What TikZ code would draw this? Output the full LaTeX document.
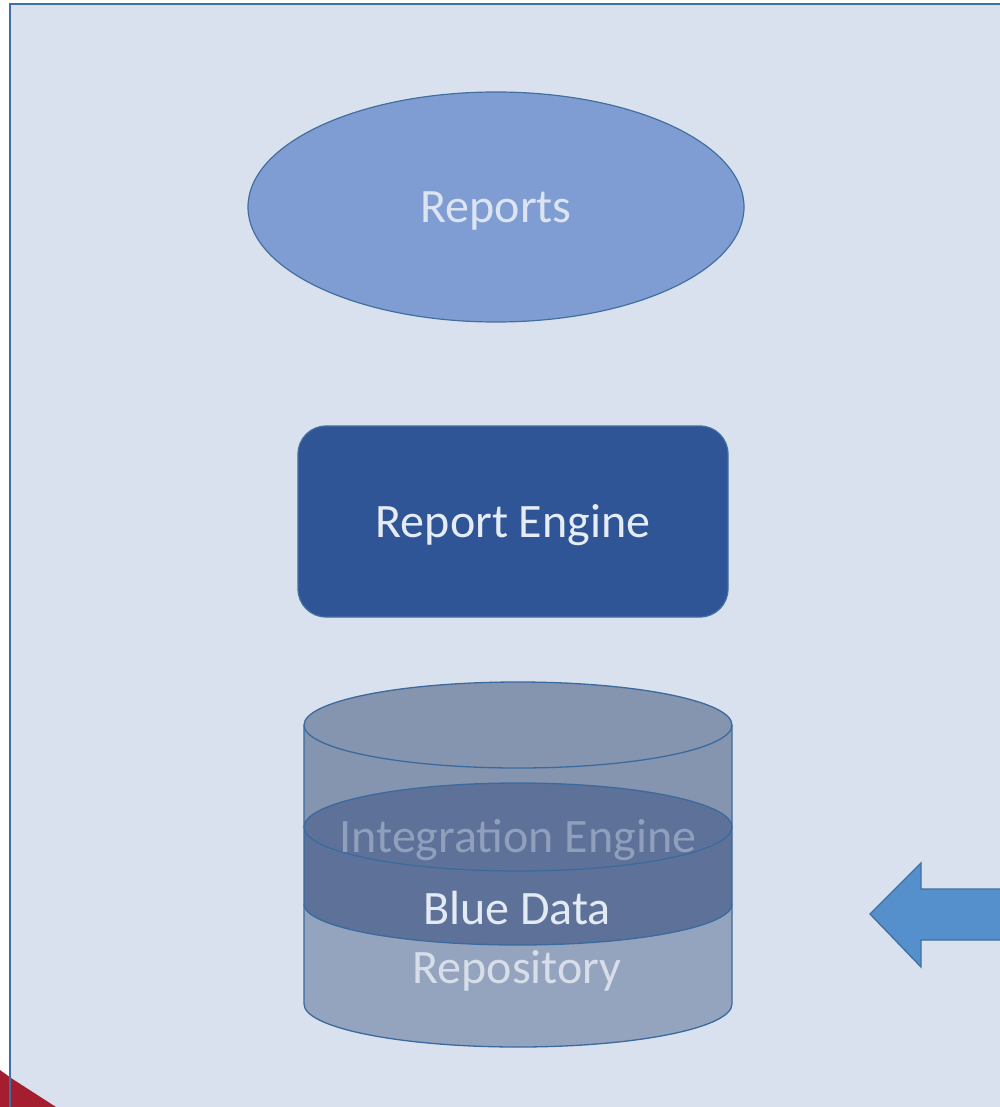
\documentclass[tikz,border=0pt]{standalone}
\usepackage{fontspec}
\setmainfont{Carlito}
\usetikzlibrary{shapes.geometric}
\definecolor{bgc}{HTML}{DAE1EE}
\definecolor{framec}{HTML}{3E70A6}
\definecolor{repfill}{HTML}{7F9DD2}
\definecolor{edgec}{HTML}{41709F}
\definecolor{reptext}{HTML}{DCE4F2}
\definecolor{engfill}{HTML}{2F5597}
\definecolor{engtext}{HTML}{E6ECF5}
\definecolor{cylup}{HTML}{8595B0}
\definecolor{cyllow}{HTML}{94A4BE}
\definecolor{cylband}{HTML}{5E7299}
\definecolor{cyledge}{HTML}{3A6A9E}
\definecolor{ietext}{HTML}{8F9FBC}
\definecolor{bdtext}{HTML}{E4EAF3}
\definecolor{rptext}{HTML}{D7DEE9}
\definecolor{arrfill}{HTML}{5590CD}
\definecolor{redc}{HTML}{A51E30}
\tikzset{
  bigtext/.style={font=\fontsize{48}{58}\selectfont, anchor=base, inner sep=0pt},
  cyledgeline/.style={draw=cyledge, line width=1.3pt},
}
\begin{document}
\begin{tikzpicture}[x=1pt,y=-1pt]
\useasboundingbox (0,0) rectangle (1000,1107);
\clip (0,0) rectangle (1000,1107);
\fill[white] (0,0) rectangle (1000,1107);
% frame
\fill[bgc] (10,4) rectangle (1010,1115);
% red wedge
\fill[redc] (0,1070) -- (11,1078) -- (56,1107) -- (0,1107) -- cycle;
\draw[framec, line width=2.2pt] (10,1115) -- (10,4) -- (1010,4);

% Reports ellipse
\node[ellipse, draw=edgec, fill=repfill, line width=1.2pt, minimum width=496pt, minimum height=230pt, inner sep=0pt] (reports) at (496,207) {};
\node[bigtext, text=reptext] (reportst) at (496,223) {Reports};

% Report Engine
\node[draw=edgec, fill=engfill, line width=1.2pt, rounded corners=28pt, minimum width=430pt, minimum height=191pt, inner sep=0pt] (engine) at (513,521.5) {};
\node[bigtext, text=engtext] (enginet) at (513,537) {Report Engine};

% Cylinder (repository)
\fill[cyllow] (304,725) -- (304,1004) arc[start angle=180, end angle=360, x radius=214pt, y radius=43pt] -- (732,725) -- cycle;
\fill[cylup] (304,725) -- (304,827) -- (732,827) -- (732,725) -- cycle;
\fill[cylup] (518,725) ellipse [x radius=214pt, y radius=43pt];
% band (integration engine)
\fill[cylband] (304,827) -- (304,904) arc[start angle=180, end angle=360, x radius=214pt, y radius=41pt] -- (732,827) -- cycle;
\fill[cylband] (518,827) ellipse [x radius=214pt, y radius=44pt];
\draw[cyledgeline] (518,827) ellipse [x radius=214pt, y radius=44pt];
\draw[cyledgeline] (304,904) arc[start angle=180, end angle=360, x radius=214pt, y radius=41pt];
% outer outline
\draw[cyledgeline] (518,725) ellipse [x radius=214pt, y radius=43pt];
\draw[cyledgeline] (304,725) -- (304,1004) arc[start angle=180, end angle=360, x radius=214pt, y radius=43pt] -- (732,725);

\node[bigtext, text=ietext] (iet) at (518,852) {Integration Engine};
\node[bigtext, text=bdtext] (bdt) at (517,924) {Blue Data};
\node[bigtext, text=rptext] (rpt) at (517,983) {Repository};

% arrow
\draw[draw=edgec, fill=arrfill, line width=1.3pt, line join=miter] (870,914) -- (921,863) -- (921,889) -- (1010,889) -- (1010,940) -- (921,940) -- (921,967) -- cycle;
\end{tikzpicture}
\end{document}
